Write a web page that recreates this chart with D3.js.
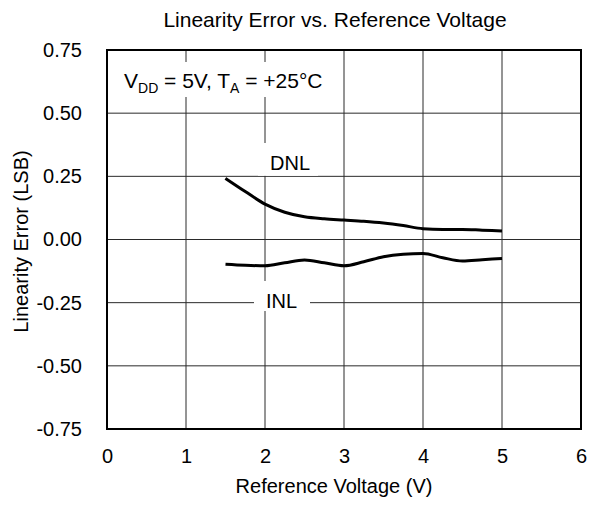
<!DOCTYPE html>
<html><head><meta charset="utf-8">
<script src="https://cdn.jsdelivr.net/npm/d3@7"></script>
<style>body{margin:0;background:#fff}svg{display:block}text{font-family:"Liberation Sans",Arial,sans-serif;fill:#000}</style>
</head><body><svg id="c" width="594" height="505"></svg>
<script>
const voltage = [1.5, 1.75, 2.0, 2.25, 2.5, 2.75, 3.0, 3.25, 3.5, 3.75, 4.0, 4.25, 4.5, 4.75, 5.0];
const dnl = [0.242, 0.190, 0.140, 0.108, 0.090, 0.082, 0.077, 0.072, 0.065, 0.055, 0.043, 0.040, 0.040, 0.037, 0.034];
const inl = [-0.098, -0.102, -0.104, -0.092, -0.081, -0.092, -0.104, -0.088, -0.068, -0.058, -0.055, -0.072, -0.085, -0.080, -0.075];
const xTicks = [0, 1, 2, 3, 4, 5, 6];
const yTicks = [-0.75, -0.5, -0.25, 0, 0.25, 0.5, 0.75];

const m = {l:107, t:50, r:13, b:76};
const W = 594, H = 505;
const FS = "20px";
const svg = d3.select("#c");
const x = d3.scaleLinear().domain([0,6]).range([m.l, W-m.r]);
const y = d3.scaleLinear().domain([-0.75,0.75]).range([H-m.b, m.t]);

// grid
const g = svg.append("g");
g.selectAll("line.v").data(xTicks.slice(1,-1)).join("line")
  .attr("x1",d=>x(d)).attr("x2",d=>x(d)).attr("y1",y(0.75)).attr("y2",y(-0.75))
  .attr("stroke","#2a2a2a").attr("stroke-width",1);
g.selectAll("line.h").data(yTicks.slice(1,-1)).join("line")
  .attr("x1",x(0)).attr("x2",x(6)).attr("y1",d=>y(d)).attr("y2",d=>y(d))
  .attr("stroke","#2a2a2a").attr("stroke-width",1);

// label backgrounds
svg.append("rect").attr("x",x(0)+1).attr("y",62).attr("width",x(3)-x(0)-2).attr("height",35).attr("fill","#fff");
svg.append("rect").attr("x",258).attr("y",143).attr("width",60).attr("height",y(0.25)-143-0.5).attr("fill","#fff");
svg.append("rect").attr("x",254).attr("y",281).attr("width",56).attr("height",30).attr("fill","#fff");

// frame
svg.append("rect").attr("x",x(0)).attr("y",y(0.75)).attr("width",x(6)-x(0)).attr("height",y(-0.75)-y(0.75))
  .attr("fill","none").attr("stroke","#000").attr("stroke-width",2);

// axes labels
const xa = d3.axisBottom(x).tickValues(xTicks).tickSize(0).tickPadding(20).tickFormat(d3.format("d"));
svg.append("g").attr("transform",`translate(0,${y(-0.75)})`).call(xa)
  .call(s=>s.select(".domain").remove())
  .selectAll("text").style("font-size",FS).style("font-family","Liberation Sans, Arial, sans-serif");
const ya = d3.axisLeft(y).tickValues(yTicks).tickSize(0).tickPadding(25).tickFormat(d3.format(".2f"));
svg.append("g").attr("transform",`translate(${x(0)},0)`).call(ya)
  .call(s=>s.select(".domain").remove())
  .selectAll("text").style("font-size",FS).style("font-family","Liberation Sans, Arial, sans-serif")
  .text(d=>d3.format(".2f")(d).replace("−","-"));

// curves
const line = d3.line().x(d=>x(d[0])).y(d=>y(d[1])).curve(d3.curveMonotoneX);
[dnl, inl].forEach(s=>{
  svg.append("path").datum(voltage.map((v,i)=>[v,s[i]])).attr("d",line)
    .attr("fill","none").attr("stroke","#000").attr("stroke-width",3).attr("stroke-linecap","butt");
});

// texts
svg.append("text").attr("x",335).attr("y",27).attr("text-anchor","middle").style("font-size","21px").text("Linearity Error vs. Reference Voltage");
svg.append("text").attr("x",334).attr("y",493).attr("text-anchor","middle").style("font-size",FS).text("Reference Voltage (V)");
svg.append("text").attr("transform",`translate(28,${y(0)+2}) rotate(-90)`).attr("text-anchor","middle").style("font-size",FS).text("Linearity Error (LSB)");
svg.append("text").attr("x",270).attr("y",170).style("font-size",FS).text("DNL");
svg.append("text").attr("x",266).attr("y",308).style("font-size",FS).text("INL");
const lt = svg.append("text").attr("x",124).attr("y",88).style("font-size","21px");
lt.append("tspan").text("V");
lt.append("tspan").attr("dy",5).style("font-size","14px").text("DD");
lt.append("tspan").attr("dy",-5).text(" = 5V, T");
lt.append("tspan").attr("dy",5).style("font-size","14px").text("A");
lt.append("tspan").attr("dy",-5).text(" = +25°C");
</script></body></html>
